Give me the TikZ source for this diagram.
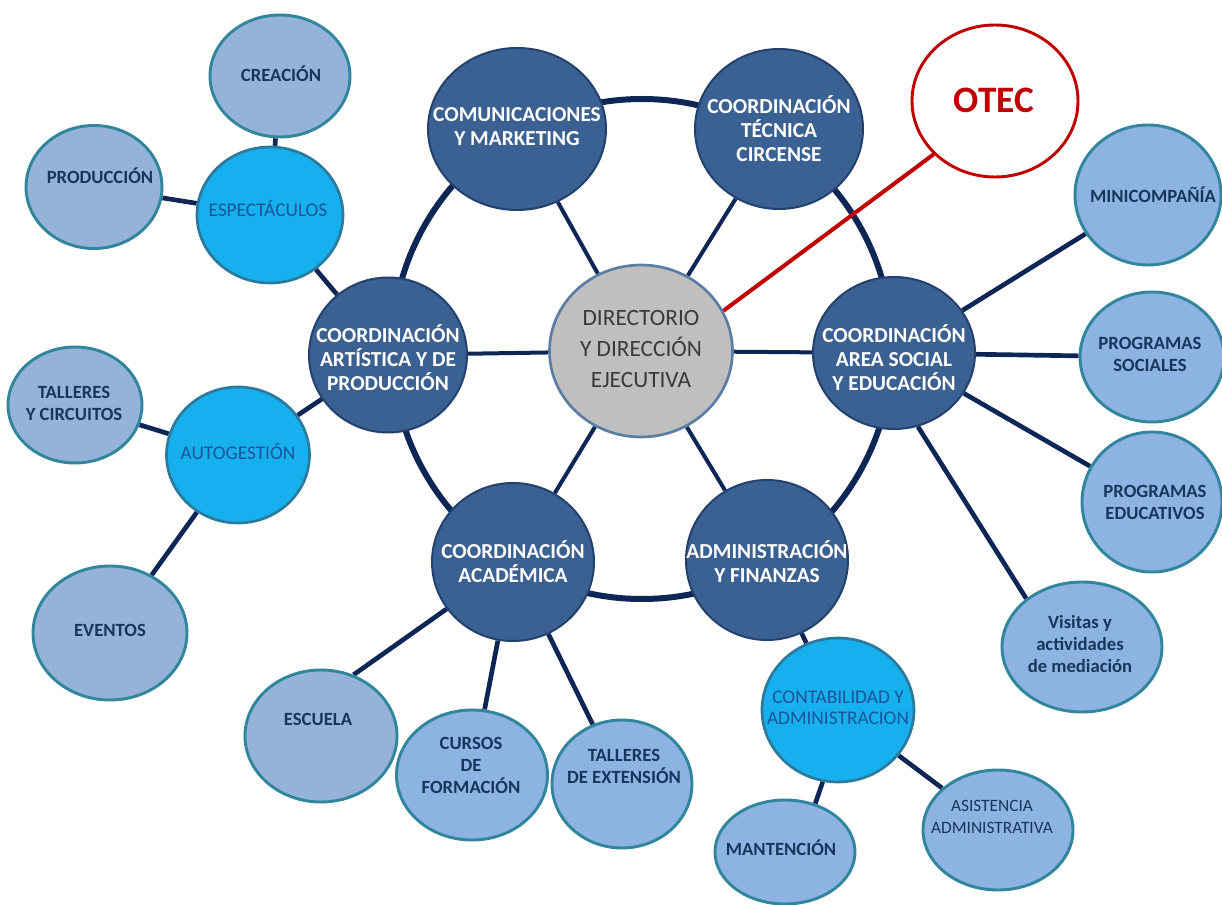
\documentclass[tikz,border=0pt]{standalone}
\usepackage{fontspec}
\setmainfont{Carlito}
\usetikzlibrary{shapes.geometric,backgrounds}
\definecolor{dkfill}{HTML}{3B6192}
\definecolor{dkline}{HTML}{23416E}
\definecolor{satA}{HTML}{95B3D7}
\definecolor{satB}{HTML}{8DB3E2}
\definecolor{satline}{HTML}{31859C}
\definecolor{cyfill}{HTML}{17B0EE}
\definecolor{cyline}{HTML}{2B7A9E}
\definecolor{cytext}{HTML}{1A549A}
\definecolor{navy}{HTML}{0E2656}
\definecolor{sattext}{HTML}{17365D}
\definecolor{dirfill}{HTML}{BFBFBF}
\definecolor{dirline}{HTML}{5B7CA3}
\definecolor{dirtextc}{HTML}{3A3A3A}
\definecolor{otecred}{HTML}{C00000}
\begin{document}
\begin{tikzpicture}[x=0.75pt,y=-0.75pt,
  sz/.style 2 args={minimum width=#1*0.75pt,minimum height=#2*0.75pt},
  bub/.style={ellipse,inner sep=0pt},
  dark/.style={bub,fill=dkfill,draw=dkline,line width=1.5pt},
  dirbub/.style={bub,fill=dirfill,draw=dirline,line width=2pt},
  cyan/.style={bub,fill=cyfill,draw=cyline,line width=2pt},
  lightA/.style={bub,fill=satA,draw=satline,line width=2.2pt},
  lightB/.style={bub,fill=satB,draw=satline,line width=2.2pt},
  otecbub/.style={bub,fill=white,draw=otecred,line width=2.2pt},
  dtext/.style={text=white,font=\fontsize{16}{18}\selectfont\bfseries,align=center,inner sep=0pt},
  dirtext/.style={text=dirtextc,font=\fontsize{17.5}{23}\selectfont,align=center,inner sep=0pt},
  stext/.style={text=sattext,font=\fontsize{14}{16.5}\selectfont\bfseries,align=center,inner sep=0pt},
  ctext/.style={text=cytext,font=\fontsize{14.5}{16}\selectfont,align=center,inner sep=0pt},
  otext/.style={text=otecred,font=\fontsize{28}{30}\selectfont\bfseries,align=center,inner sep=0pt},
  ring/.style={draw=navy,line width=4.5pt},
  spoke/.style={draw=navy,line width=3pt},
  link/.style={draw=navy,line width=3.5pt},
  redlink/.style={draw=otecred,line width=3pt}
]
\useasboundingbox (0,0) rectangle (1222,905);
\coordinate (hub) at (642,349);

% central and hexagon nodes
\node[dirbub,sz={183}{172}] (dir) at (641,351) {};
\node[dark,sz={178}{162}] (comun) at (517,129) {};
\node[dark,sz={168}{160}] (tecnica) at (779,129) {};
\node[dark,sz={162}{152}] (social) at (894,353) {};
\node[dark,sz={162}{160}] (admin) at (767,560) {};
\node[dark,sz={162}{158}] (acad) at (513,562) {};
\node[dark,sz={158}{155}] (art) at (388,355) {};

% cyan nodes
\node[cyan,sz={146}{136}] (esp) at (270,215) {};
\node[cyan,sz={143}{136}] (auto) at (238,455) {};
\node[cyan,sz={152}{144}] (cont) at (838,710) {};

% light nodes
\node[lightA,sz={140}{122}] (crea) at (280,76) {};
\node[lightA,sz={136}{123}] (prod) at (94,187) {};
\node[lightA,sz={134}{116}] (tyc) at (75,405) {};
\node[lightA,sz={154}{134}] (eventos) at (110,633) {};
\node[lightA,sz={152}{132}] (escuela) at (321,736) {};
\node[lightB,sz={151}{130}] (cursos) at (472,775) {};
\node[lightB,sz={140}{128}] (talext) at (622,784) {};
\node[lightB,sz={140}{104}] (mant) at (785,852) {};
\node[lightB,sz={150}{120}] (asist) at (998,830) {};
\node[lightB,sz={160}{130}] (visitas) at (1082,647) {};
\node[lightB,sz={140}{140}] (progedu) at (1152,502) {};
\node[lightB,sz={144}{130}] (progsoc) at (1152,357) {};
\node[lightB,sz={146}{140}] (mini) at (1148,195) {};
\node[otecbub,sz={166}{152}] (otec) at (995,101) {};

% texts
\node[dirtext] (dir-t) at (641,349) {DIRECTORIO\\Y DIRECCIÓN\\EJECUTIVA};
\node[dtext] (comun-t) at (517,127) {COMUNICACIONES\\Y MARKETING};
\node[dtext] (tecnica-t) at (779,129) {COORDINACIÓN\\TÉCNICA\\CIRCENSE};
\node[dtext] (social-t) at (894,358) {COORDINACIÓN\\AREA SOCIAL\\Y EDUCACIÓN};
\node[dtext] (admin-t) at (767,562) {ADMINISTRACIÓN\\Y FINANZAS};
\node[dtext] (acad-t) at (513,562) {COORDINACIÓN\\ACADÉMICA};
\node[dtext] (art-t) at (388,358) {COORDINACIÓN\\ARTÍSTICA Y DE\\PRODUCCIÓN};
\node[ctext] (esp-t) at (268,209) {ESPECTÁCULOS};
\node[ctext] (auto-t) at (238,452) {AUTOGESTIÓN};
\node[ctext] (cont-t) at (838,708) {CONTABILIDAD Y\\ADMINISTRACION};
\node[stext] (crea-t) at (281,74) {CREACIÓN};
\node[stext] (prod-t) at (100,176) {PRODUCCIÓN};
\node[stext] (tyc-t) at (74,403) {TALLERES\\Y CIRCUITOS};
\node[stext] (eventos-t) at (110,630) {EVENTOS};
\node[stext] (escuela-t) at (318,719) {ESCUELA};
\node[stext] (cursos-t) at (471,765) {CURSOS\\DE\\FORMACIÓN};
\node[stext] (talext-t) at (624,766) {TALLERES\\DE EXTENSIÓN};
\node[stext] (mant-t) at (781,848) {MANTENCIÓN};
\node[stext,font=\fontsize{13}{16}\selectfont] (asist-t) at (992,817) {ASISTENCIA\\ADMINISTRATIVA};
\node[stext] (visitas-t) at (1080,644) {Visitas y\\actividades\\de mediación};
\node[stext] (progedu-t) at (1155,502) {PROGRAMAS\\EDUCATIVOS};
\node[stext] (progsoc-t) at (1150,354) {PROGRAMAS\\SOCIALES};
\node[stext] (mini-t) at (1153,195) {MINICOMPAÑÍA};
\node[otext] (otec-t) at (994,100) {OTEC};

\begin{scope}[on background layer]
  \fill[white] (0,0) rectangle (1222,905);
  % ring through the six coordination nodes
  \draw[ring] (hub) circle[radius=250];
  % spokes
  \foreach \n in {comun,tecnica,social,admin,acad,art}
    \draw[spoke] (dir) -- (\n);
  % OTEC
  \draw[redlink] (dir.26) -- (otec.-139);
  % satellites
  \draw[link] (art) -- (esp);
  \draw[link] (esp) -- (crea);
  \draw[link] (esp) -- (prod);
  \draw[link] (art) -- (auto);
  \draw[link] (auto) -- (tyc);
  \draw[link] (auto) -- (eventos);
  \draw[link] (acad) -- (escuela.62);
  \draw[link] (acad) -- (cursos);
  \draw[link] (acad) -- (talext);
  \draw[link] (admin) -- (cont);
  \draw[link] (cont.-102) -- (mant.58);
  \draw[link] (cont) -- (asist);
  \draw[link] (social) -- (mini);
  \draw[link] (social) -- (progsoc);
  \draw[link] (social) -- (progedu);
  \draw[link] (social.-72) -- (visitas.139);
\end{scope}
\end{tikzpicture}
\end{document}
